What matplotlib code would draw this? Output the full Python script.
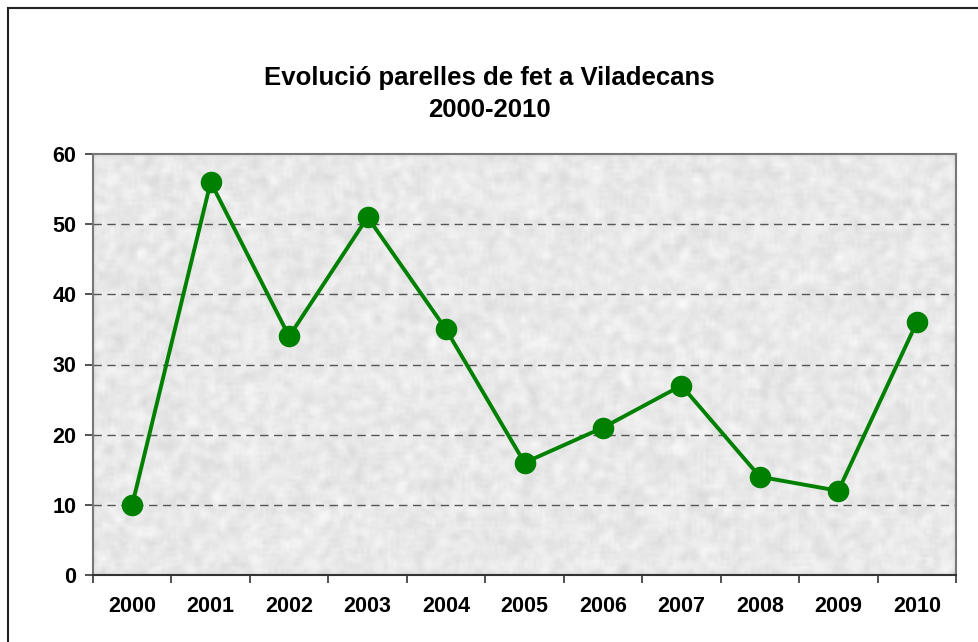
import numpy as np
import matplotlib.pyplot as plt
from matplotlib.patches import Rectangle

# ---------------------- DATA ----------------------
years = ['2000', '2001', '2002', '2003', '2004', '2005',
         '2006', '2007', '2008', '2009', '2010']
parelles = [10, 56, 34, 51, 35, 16, 21, 27, 14, 12, 36]
title = "Evolució parelles de fet a Viladecans\n2000-2010"
y_ticks = [0, 10, 20, 30, 40, 50, 60]

plt.rcParams['font.family'] = ['Liberation Sans', 'DejaVu Sans']

W, H, dpi = 979, 642, 100
fig = plt.figure(figsize=(W / dpi, H / dpi), dpi=dpi)

# outer chart border (only top/left visible in the crop)
fig.patches.append(Rectangle((8 / W, -0.1), 1.2, 1 - 8 / H + 0.1,
                             transform=fig.transFigure, fill=False,
                             edgecolor='#222222', linewidth=1.5))

# plot area in pixels: left 93, right 956, top 154, bottom 575
ax = fig.add_axes([93 / W, 1 - 575 / H, (956 - 93) / W, (575 - 154) / H])

# granite-like texture background
rng = np.random.default_rng(3)
noise = rng.random((140, 290))
k = np.ones(3) / 3
noise = np.apply_along_axis(lambda r: np.convolve(r, k, mode='same'), 1, noise)
noise = np.apply_along_axis(lambda c: np.convolve(c, k, mode='same'), 0, noise)
noise = (noise - noise.min()) / (noise.max() - noise.min())
tex = 0.84 + 0.14 * noise
ax.imshow(tex, cmap='gray', vmin=0, vmax=1, aspect='auto',
          extent=(-0.5, len(years) - 0.5, 0, 60), zorder=0,
          interpolation='bilinear')

x = np.arange(len(years))
for yv in y_ticks[1:-1]:
    ax.axhline(yv, color='#555555', linewidth=1, linestyle=(0, (6, 4)), zorder=1)

ax.plot(x, parelles, color='#008000', linewidth=2.8, marker='o',
        markersize=14.5, zorder=3)

ax.set_xlim(-0.5, len(years) - 0.5)
ax.set_ylim(0, 60)
ax.set_yticks(y_ticks)
ax.set_yticklabels([str(v) for v in y_ticks], fontsize=15.5, fontweight='bold')
ax.set_xticks(x)
ax.set_xticklabels(years, fontsize=15.5, fontweight='bold')
ax.set_xticks(np.arange(-0.5, len(years)), minor=True)
ax.tick_params(axis='x', which='major', length=0, pad=15)
ax.tick_params(axis='x', which='minor', length=6, width=1.2, color='#333333')
ax.tick_params(axis='y', length=6, width=1.2, color='#333333', pad=6)

for s in ['top', 'right', 'left']:
    ax.spines[s].set_color('#777777')
    ax.spines[s].set_linewidth(1.5)
ax.spines['bottom'].set_color('#333333')
ax.spines['bottom'].set_linewidth(1.5)

fig.text(0.5, 1 - 94 / H, title, ha='center', va='center', fontsize=18.5,
         fontweight='bold', linespacing=1.4)

fig.savefig('out.png', dpi=dpi)
